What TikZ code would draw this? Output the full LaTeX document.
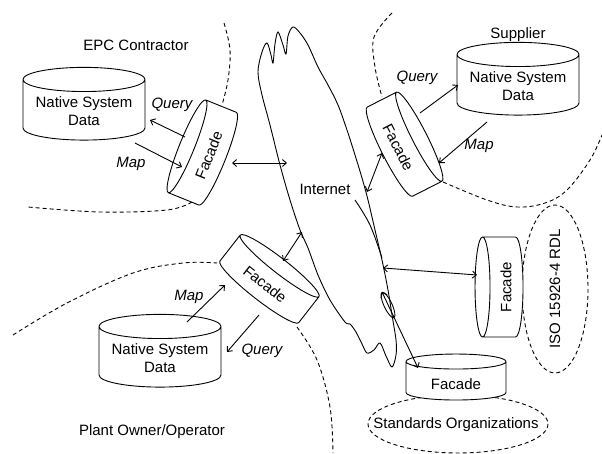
\documentclass[tikz,border=0pt]{standalone}
\usepackage{fontspec}
\setmainfont{Liberation Sans}
\usetikzlibrary{shapes.geometric,arrows.meta,calc}
% lower the text in a cylinder body without changing its box
\newcommand\inbody[1]{\raisebox{-3pt}[\height][\depth]{#1}}
\newcommand\twolines[2]{\inbody{\begin{tabular}{@{}c@{}}#1\\#2\end{tabular}}}

\begin{document}
\begin{tikzpicture}[x=1pt,y=-1pt,
  txt/.style={font=\fontsize{15}{18}\selectfont, inner sep=0pt},
  store/.style={cylinder, shape border rotate=90, draw, fill=white, line width=0.9pt,
     aspect=0.25, minimum width=122pt, minimum height=56pt, inner sep=0pt,
     font=\fontsize{15}{18}\selectfont},
  facade/.style={cylinder, shape border rotate=90, draw, fill=white, line width=0.9pt,
     aspect=0.3, minimum width=100pt, minimum height=48pt, inner sep=0pt,
     font=\fontsize{15}{18}\selectfont},
  region/.style={dash pattern=on 4pt off 3pt, line width=0.9pt},
  lbl/.style={font=\fontsize{15}{18}\selectfont\itshape, inner sep=0pt},
  link/.style={line width=0.9pt, {Straight Barb[length=4pt,width=7pt]}-{Straight Barb[length=4pt,width=7pt]}},
  flow/.style={line width=0.9pt, -{Straight Barb[length=4pt,width=7pt]}},
  cloudline/.style={line width=0.9pt}
]
\useasboundingbox (0,0) rectangle (602,454);

% dashed region boundaries
\draw[region] plot[smooth, tension=0.6] coordinates {(224,23) (230,50) (228,80) (222,105)};
\draw[region] plot[smooth, tension=0.6] coordinates {(192,202) (167,210) (100,212) (28,207)};
\draw[region] plot[smooth, tension=0.6] coordinates {(392,13) (374,37) (375,67) (382,97)};
\draw[region] plot[smooth, tension=0.6] coordinates {(443,182) (487,200) (517,207) (545,203) (567,190) (590,160) (602,135)};
\draw[region] plot[smooth, tension=0.6] coordinates {(13,335) (67,303) (133,273) (183,263) (217,263)};
\draw[region] plot[smooth, tension=0.6] coordinates {(297,327) (317,360) (330,407) (333,453)};
\draw[region] (555,289) ellipse[x radius=33, y radius=84];
\draw[region] (458,424) ellipse[x radius=90, y radius=29];

% the Internet cloud
\draw[cloudline] plot[smooth cycle, tension=0.55] coordinates {
  (345,322) (330,300) (318,275) (308,248) (300,230) (290,200) (280,165) (270,125)
  (262,95) (258,72) (262,52) (267,43) (271,55) (273,63) (275,44) (278,32) (283,45)
  (286,54) (288,36) (293,27) (300,33) (308,45) (318,67) (328,85) (338,105) (347,130)
  (355,155) (362,178) (368,200) (375,230) (382,260) (388,290) (392,315) (396,340)
  (396,355) (392,367) (386,356) (380,343) (374,350) (367,353) (362,344) (356,332)
  (350,324)};
\draw[cloudline] plot[smooth, tension=0.6] coordinates {(355,200) (370,225) (382,258)};
\draw[cloudline, rotate around={25:(388,305)}] (388,305) ellipse[x radius=4, y radius=14];

% data stores
\node[store] (S1) at (84,110) {\twolines{Native System}{Data}};
\node[store] (S2) at (518,85) {\twolines{Native System}{Data}};
\node[store] (S3) at (160,357) {\twolines{Native System}{Data}};

% facades
\node[facade, rotate=68]  (F1) at (206,154) {\inbody{Facade}};
\node[facade, rotate=-63] (F2) at (401,146) {\inbody{Facade}};
\node[facade, rotate=-38] (F3) at (267,282) {\inbody{Facade}};
\node[facade, rotate=90]  (F4) at (503,287) {\inbody{Facade}};
\node[facade, minimum height=46pt] (F5) at (456,381) {\inbody{Facade}};

% labels
\node[txt] (tEPC) at (136,45) {EPC Contractor};
\node[txt] (tSup) at (518,35) {Supplier};
\node[txt] (tPlant) at (152,432) {Plant Owner/Operator};
\node[txt] (tNet) at (325,189) {Internet};
\node[txt, rotate=90] (tISO) at (555,289) {ISO 15926-4 RDL};
\node[txt] (tStd) at (456,425) {Standards Organizations};

\node[lbl] (q1) at (172,105) {Query};
\node[lbl] (m1) at (131,164) {Map};
\node[lbl] (q2) at (417,78) {Query};
\node[lbl] (m2) at (479,146) {Map};
\node[lbl] (m3) at (189,297) {Map};
\node[lbl] (q3) at (262,351) {Query};

% cloud attachment points
\coordinate (c1) at (287,163);
\coordinate (c2) at (367,192);
\coordinate (c3) at (302,232);
\coordinate (c4) at (383,268);
\coordinate (c5) at (382,292);

% query / map flows
\draw[flow] ($(F1.center)+(-21,-17)$) -- ($(S1.center)+(66,10)$);
\draw[flow] ($(S1.center)+(51,33)$) -- ($(F1.center)+(-24,13)$);
\draw[flow] ($(F2.center)+(19,-33)$) -- ($(S2.center)+(-60,0)$);
\draw[flow] ($(S2.center)+(-31,37)$) -- ($(F2.center)+(38,17)$);
\draw[flow] ($(S3.center)+(27,-35)$) -- ($(F3.center)+(-42,3)$);
\draw[flow] ($(F3.center)+(-8,33)$) -- ($(S3.center)+(67,-5)$);

% internet links
\draw[link] ($(F1.center)+(26,9)$) -- (c1);
\draw[link] ($(F2.center)+(-19,7)$) -- (c2);
\draw[link] ($(F3.center)+(16,-21)$) -- (c3);
\draw[link] (c4) -- ($(F4.center)+(-26,-12)$);
\draw[link] (c5) -- ($(F5.center)+(-38,-13)$);
\end{tikzpicture}
\end{document}
